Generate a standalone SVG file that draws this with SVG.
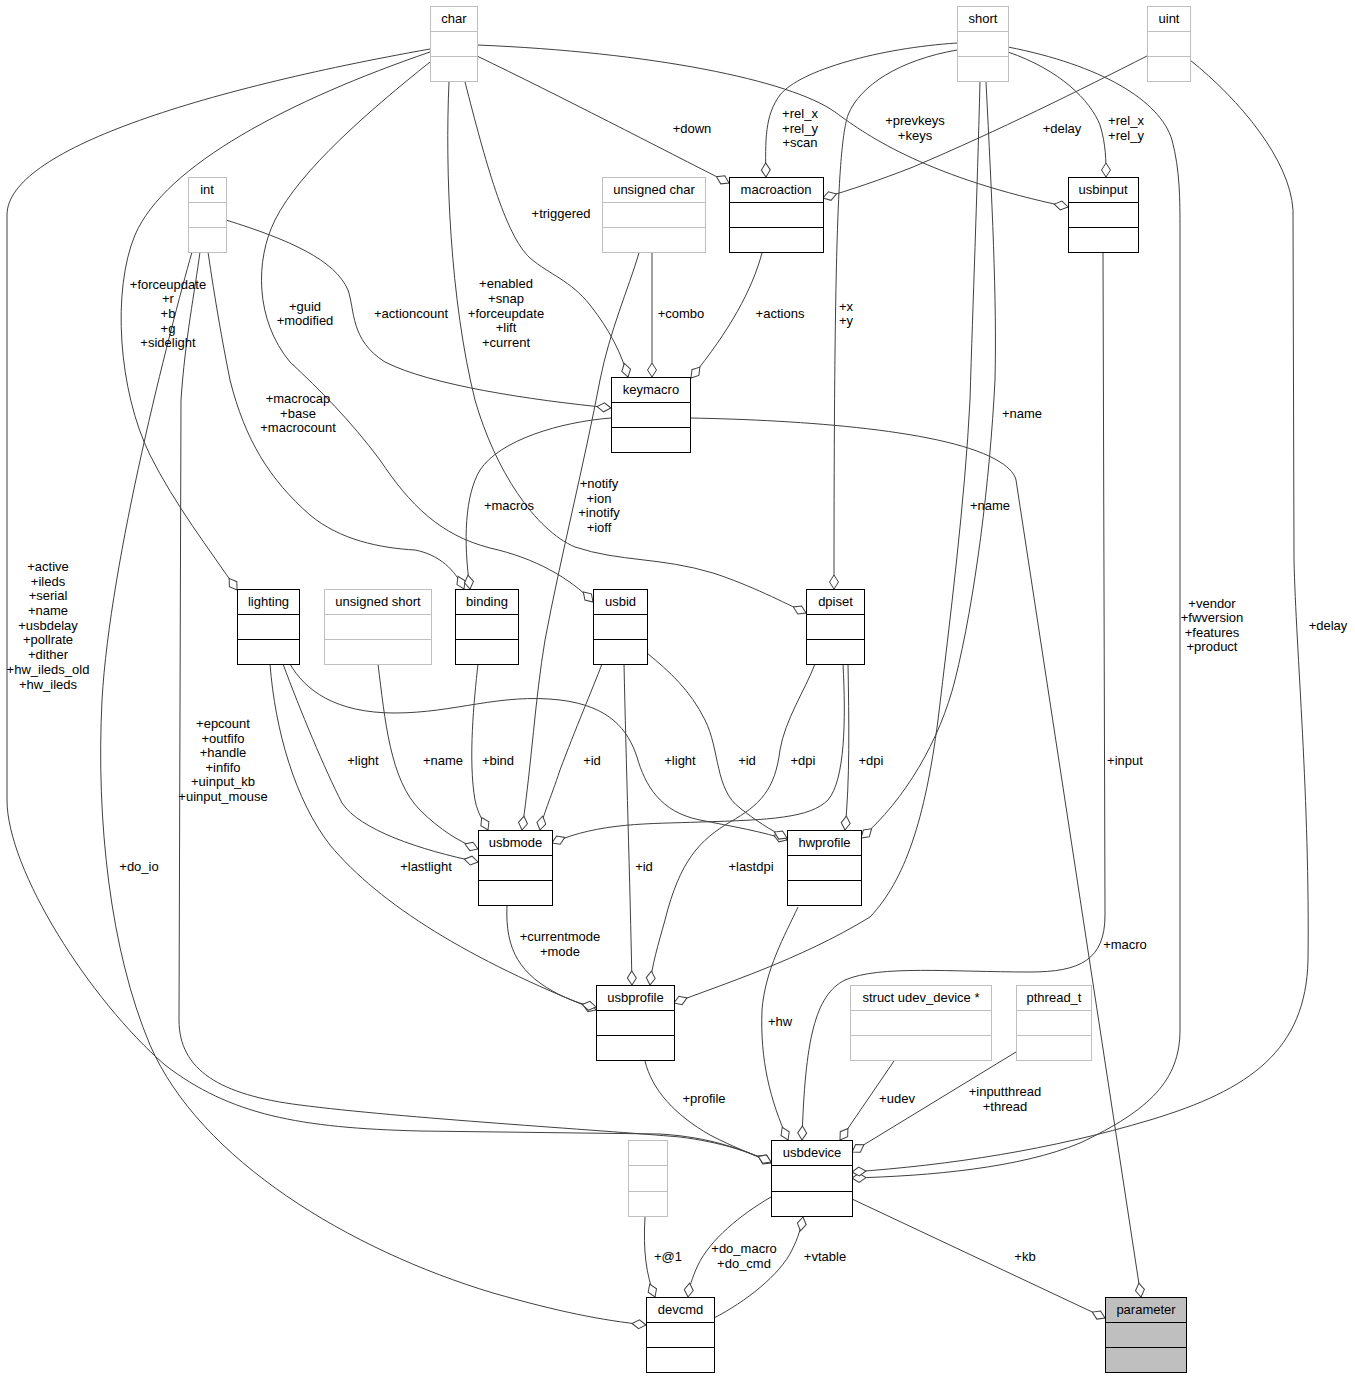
<svg xmlns="http://www.w3.org/2000/svg" width="1355" height="1379" viewBox="0 0 1355 1379">
<style>
text{font-family:"Liberation Sans",Arial,Helvetica,sans-serif;font-size:13px;fill:#000}
.node text{text-anchor:middle}
.node rect{fill:#fff;stroke:#000;stroke-width:1}
.node line{stroke:#000;stroke-width:1}
.gray rect,.gray line{stroke:#bfbfbf}
.root rect{fill:#bfbfbf}
#edges path{fill:none;stroke:#404040;stroke-width:1;marker-end:url(#dia)}
#labels text{text-anchor:middle}
</style>
<defs>
<marker id="dia" markerUnits="userSpaceOnUse" orient="auto" markerWidth="16" markerHeight="12" viewBox="-15 -6 16 12" refX="0" refY="0" overflow="visible">
<path d="M0,0 L-7,-4.5 L-14,0 L-7,4.5 Z" fill="#fff" stroke="#404040" stroke-width="1"/>
</marker>
</defs>
<rect width="1355" height="1379" fill="#fff"/>
<g id="edges">
<path d="M477,56 C560,96 660,148 729,183"/>
<path d="M477,45 C650,52 790,80 835,112 C870,138 930,178 1068,207"/>
<path d="M430,49 C200,90 7,150 7,215 L7,800 C7,870 90,1000 165,1065 C230,1115 300,1128 420,1131 L660,1134 C710,1137 745,1150 771,1163"/>
<path d="M430,52 C290,100 165,165 135,235 C112,290 118,390 150,455 C175,505 210,550 237,590"/>
<path d="M465,82 C485,160 505,235 530,258 C550,275 570,280 590,305 C610,330 622,355 628,377"/>
<path d="M449,82 C445,170 450,300 475,400 C495,470 535,530 575,547 C620,562 660,557 713,573 C750,585 785,603 806,613"/>
<path d="M430,62 C370,110 300,170 275,220 C255,260 255,320 290,362 C320,390 350,420 380,460 C410,505 440,535 490,548 C535,558 570,578 593,602"/>
<path d="M957,43 C880,48 800,70 780,95 C765,115 765,140 766,177"/>
<path d="M957,50 C900,60 860,85 848,115 C838,145 834,250 834,589"/>
<path d="M1008,52 C1060,70 1090,100 1100,125 C1106,145 1106,160 1106,177"/>
<path d="M1008,47 C1100,65 1160,100 1172,140 C1180,170 1180,200 1180,230 L1180,1030 C1180,1080 1150,1110 1080,1143 C1020,1168 930,1176 852,1178"/>
<path d="M1190,60 C1240,100 1290,160 1293,210 L1294,560 C1296,650 1310,800 1308,960 C1306,1050 1250,1090 1150,1120 C1050,1150 950,1165 852,1172"/>
<path d="M1147,56 C1080,90 1000,130 913,167 C880,180 850,190 823,198"/>
<path d="M980,82 C977,200 973,300 970,400 C965,500 950,620 938,720 C925,820 905,880 870,917 C800,960 720,985 674,1003"/>
<path d="M986,82 C992,200 997,300 995,380 C990,480 975,600 955,680 C940,740 905,800 861,838"/>
<path d="M226,220 C290,240 335,260 348,290 C355,310 350,340 385,362 C430,385 530,400 611,408"/>
<path d="M208,252 C215,300 222,340 230,380 C245,440 270,480 310,515 C340,540 380,548 415,550 C440,555 455,570 464,589"/>
<path d="M200,252 C195,290 185,340 181,400 L179,1020 C179,1070 220,1095 300,1105 C400,1118 600,1130 680,1137 C720,1142 750,1152 771,1162"/>
<path d="M192,252 C170,330 110,560 102,700 C96,820 110,950 150,1045 C200,1160 350,1250 493,1293 C560,1312 600,1320 646,1325"/>
<path d="M652,253 L652,377"/>
<path d="M639,253 C628,290 610,330 600,380 C585,460 560,560 545,640 C535,700 532,760 522,830"/>
<path d="M478,664 C474,700 468,760 475,800 C478,815 484,822 488,830"/>
<path d="M602,664 C592,690 575,730 560,770 C550,800 543,815 540,830"/>
<path d="M378,664 C385,720 390,780 420,810 C440,830 460,842 478,849"/>
<path d="M283,664 C300,710 325,770 342,803 C360,830 420,850 478,862"/>
<path d="M270,664 C275,730 295,800 330,845 C380,905 470,960 596,1010"/>
<path d="M507,906 C505,950 520,975 560,995 C575,1002 585,1005 596,1007"/>
<path d="M290,664 C305,690 335,713 395,713 C455,713 500,693 560,700 C610,706 628,730 637,757 C645,785 660,812 700,820 C730,826 765,832 787,840"/>
<path d="M647,653 C670,672 690,690 705,720 C720,750 715,790 740,808 C755,820 770,830 787,838"/>
<path d="M843,664 C846,720 845,780 828,800 C810,818 770,820 700,822 C650,824 600,822 552,843"/>
<path d="M848,664 C849,720 850,780 845,830"/>
<path d="M815,664 C805,690 785,720 780,750 C775,790 760,805 730,822 C700,840 680,860 665,920 C658,945 652,965 650,985"/>
<path d="M624,664 C626,760 630,880 632,985"/>
<path d="M611,418 C560,422 500,440 480,470 C465,495 463,540 470,589"/>
<path d="M762,253 C752,290 730,330 691,378"/>
<path d="M690,418 C800,420 950,430 1000,462 C1010,468 1015,475 1016,480 L1141,1297"/>
<path d="M645,1061 C652,1090 675,1115 710,1135 C735,1148 755,1155 771,1162"/>
<path d="M798,907 C785,935 765,970 762,1010 C760,1060 770,1100 788,1140"/>
<path d="M1103,253 L1105,915 C1105,960 1080,972 1030,972 C950,972 880,965 845,980 C815,995 805,1040 802,1140"/>
<path d="M894,1061 L840,1140"/>
<path d="M1016,1052 L852,1152"/>
<path d="M771,1197 C740,1215 710,1240 698,1265 C692,1278 689,1288 688,1297"/>
<path d="M714,1318 C745,1302 780,1275 792,1250 C798,1238 801,1228 803,1217"/>
<path d="M645,1217 C643,1250 646,1275 655,1297"/>
<path d="M852,1199 L1105,1318"/>
</g>
<g id="labels">
<text x="692" y="133">+down</text>
<text x="915" y="125">+prevkeys</text><text x="915" y="140">+keys</text>
<text x="48" y="571">+active</text><text x="48" y="586">+ileds</text><text x="48" y="600">+serial</text><text x="48" y="615">+name</text><text x="48" y="630">+usbdelay</text><text x="48" y="644">+pollrate</text><text x="48" y="659">+dither</text><text x="48" y="674">+hw_ileds_old</text><text x="48" y="689">+hw_ileds</text>
<text x="168" y="289">+forceupdate</text><text x="168" y="303">+r</text><text x="168" y="318">+b</text><text x="168" y="333">+g</text><text x="168" y="347">+sidelight</text>
<text x="561" y="218">+triggered</text>
<text x="506" y="288">+enabled</text><text x="506" y="303">+snap</text><text x="506" y="318">+forceupdate</text><text x="506" y="332">+lift</text><text x="506" y="347">+current</text>
<text x="305" y="311">+guid</text><text x="305" y="325">+modified</text>
<text x="800" y="118">+rel_x</text><text x="800" y="133">+rel_y</text><text x="800" y="147">+scan</text>
<text x="846" y="311">+x</text><text x="846" y="325">+y</text>
<text x="1126" y="125">+rel_x</text><text x="1126" y="140">+rel_y</text>
<text x="1212" y="608">+vendor</text><text x="1212" y="622">+fwversion</text><text x="1212" y="637">+features</text><text x="1212" y="651">+product</text>
<text x="1328" y="630">+delay</text>
<text x="1062" y="133">+delay</text>
<text x="1022" y="418">+name</text>
<text x="990" y="510">+name</text>
<text x="411" y="318">+actioncount</text>
<text x="298" y="403">+macrocap</text><text x="298" y="418">+base</text><text x="298" y="432">+macrocount</text>
<text x="223" y="728">+epcount</text><text x="223" y="743">+outfifo</text><text x="223" y="757">+handle</text><text x="223" y="772">+infifo</text><text x="223" y="786">+uinput_kb</text><text x="223" y="801">+uinput_mouse</text>
<text x="139" y="871">+do_io</text>
<text x="681" y="318">+combo</text>
<text x="599" y="488">+notify</text><text x="599" y="503">+ion</text><text x="599" y="517">+inotify</text><text x="599" y="532">+ioff</text>
<text x="509" y="510">+macros</text>
<text x="780" y="318">+actions</text>
<text x="363" y="765">+light</text>
<text x="443" y="765">+name</text>
<text x="498" y="765">+bind</text>
<text x="592" y="765">+id</text>
<text x="680" y="765">+light</text>
<text x="747" y="765">+id</text>
<text x="803" y="765">+dpi</text>
<text x="871" y="765">+dpi</text>
<text x="426" y="871">+lastlight</text>
<text x="644" y="871">+id</text>
<text x="751" y="871">+lastdpi</text>
<text x="560" y="941">+currentmode</text><text x="560" y="956">+mode</text>
<text x="1125" y="949">+macro</text>
<text x="1125" y="765">+input</text>
<text x="780" y="1026">+hw</text>
<text x="704" y="1103">+profile</text>
<text x="897" y="1103">+udev</text>
<text x="1005" y="1096">+inputthread</text><text x="1005" y="1111">+thread</text>
<text x="744" y="1253">+do_macro</text><text x="744" y="1268">+do_cmd</text>
<text x="825" y="1261">+vtable</text>
<text x="668" y="1261">+@1</text>
<text x="1025" y="1261">+kb</text>
</g>
<g id="n-char" class="node gray"><rect x="430.5" y="6.5" width="47" height="75"/><line x1="430.5" y1="31.5" x2="477.5" y2="31.5"/><line x1="430.5" y1="56.5" x2="477.5" y2="56.5"/><text x="454" y="23">char</text></g>
<g id="n-short" class="node gray"><rect x="957.5" y="6.5" width="51" height="75"/><line x1="957.5" y1="31.5" x2="1008.5" y2="31.5"/><line x1="957.5" y1="56.5" x2="1008.5" y2="56.5"/><text x="983" y="23">short</text></g>
<g id="n-uint" class="node gray"><rect x="1147.5" y="6.5" width="43" height="75"/><line x1="1147.5" y1="31.5" x2="1190.5" y2="31.5"/><line x1="1147.5" y1="56.5" x2="1190.5" y2="56.5"/><text x="1169" y="23">uint</text></g>
<g id="n-int" class="node gray"><rect x="188.5" y="177.5" width="38" height="75"/><line x1="188.5" y1="202.5" x2="226.5" y2="202.5"/><line x1="188.5" y1="227.5" x2="226.5" y2="227.5"/><text x="207" y="194">int</text></g>
<g id="n-uchar" class="node gray"><rect x="602.5" y="177.5" width="103" height="75"/><line x1="602.5" y1="202.5" x2="705.5" y2="202.5"/><line x1="602.5" y1="227.5" x2="705.5" y2="227.5"/><text x="654" y="194">unsigned char</text></g>
<g id="n-macroaction" class="node"><rect x="729.5" y="177.5" width="94" height="75"/><line x1="729.5" y1="202.5" x2="823.5" y2="202.5"/><line x1="729.5" y1="227.5" x2="823.5" y2="227.5"/><text x="776" y="194">macroaction</text></g>
<g id="n-usbinput" class="node"><rect x="1068.5" y="177.5" width="70" height="75"/><line x1="1068.5" y1="202.5" x2="1138.5" y2="202.5"/><line x1="1068.5" y1="227.5" x2="1138.5" y2="227.5"/><text x="1103" y="194">usbinput</text></g>
<g id="n-keymacro" class="node"><rect x="611.5" y="377.5" width="79" height="75"/><line x1="611.5" y1="402.5" x2="690.5" y2="402.5"/><line x1="611.5" y1="427.5" x2="690.5" y2="427.5"/><text x="651" y="394">keymacro</text></g>
<g id="n-lighting" class="node"><rect x="237.5" y="589.5" width="62" height="75"/><line x1="237.5" y1="614.5" x2="299.5" y2="614.5"/><line x1="237.5" y1="639.5" x2="299.5" y2="639.5"/><text x="268.5" y="606">lighting</text></g>
<g id="n-ushort" class="node gray"><rect x="324.5" y="589.5" width="107" height="75"/><line x1="324.5" y1="614.5" x2="431.5" y2="614.5"/><line x1="324.5" y1="639.5" x2="431.5" y2="639.5"/><text x="378" y="606">unsigned short</text></g>
<g id="n-binding" class="node"><rect x="455.5" y="589.5" width="63" height="75"/><line x1="455.5" y1="614.5" x2="518.5" y2="614.5"/><line x1="455.5" y1="639.5" x2="518.5" y2="639.5"/><text x="487" y="606">binding</text></g>
<g id="n-usbid" class="node"><rect x="593.5" y="589.5" width="54" height="75"/><line x1="593.5" y1="614.5" x2="647.5" y2="614.5"/><line x1="593.5" y1="639.5" x2="647.5" y2="639.5"/><text x="620.5" y="606">usbid</text></g>
<g id="n-dpiset" class="node"><rect x="806.5" y="589.5" width="58" height="75"/><line x1="806.5" y1="614.5" x2="864.5" y2="614.5"/><line x1="806.5" y1="639.5" x2="864.5" y2="639.5"/><text x="835.5" y="606">dpiset</text></g>
<g id="n-usbmode" class="node"><rect x="478.5" y="830.5" width="74" height="75"/><line x1="478.5" y1="855.5" x2="552.5" y2="855.5"/><line x1="478.5" y1="880.5" x2="552.5" y2="880.5"/><text x="515.5" y="847">usbmode</text></g>
<g id="n-hwprofile" class="node"><rect x="787.5" y="830.5" width="74" height="75"/><line x1="787.5" y1="855.5" x2="861.5" y2="855.5"/><line x1="787.5" y1="880.5" x2="861.5" y2="880.5"/><text x="824.5" y="847">hwprofile</text></g>
<g id="n-usbprofile" class="node"><rect x="596.5" y="985.5" width="78" height="75"/><line x1="596.5" y1="1010.5" x2="674.5" y2="1010.5"/><line x1="596.5" y1="1035.5" x2="674.5" y2="1035.5"/><text x="635.5" y="1002">usbprofile</text></g>
<g id="n-udev" class="node gray"><rect x="850.5" y="985.5" width="141" height="75"/><line x1="850.5" y1="1010.5" x2="991.5" y2="1010.5"/><line x1="850.5" y1="1035.5" x2="991.5" y2="1035.5"/><text x="921" y="1002">struct udev_device *</text></g>
<g id="n-pthread" class="node gray"><rect x="1016.5" y="985.5" width="75" height="75"/><line x1="1016.5" y1="1010.5" x2="1091.5" y2="1010.5"/><line x1="1016.5" y1="1035.5" x2="1091.5" y2="1035.5"/><text x="1054" y="1002">pthread_t</text></g>
<g id="n-anon" class="node gray"><rect x="628.5" y="1140.5" width="39" height="76"/><line x1="628.5" y1="1165.5" x2="667.5" y2="1165.5"/><line x1="628.5" y1="1191.5" x2="667.5" y2="1191.5"/></g>
<g id="n-usbdevice" class="node"><rect x="771.5" y="1140.5" width="81" height="76"/><line x1="771.5" y1="1165.5" x2="852.5" y2="1165.5"/><line x1="771.5" y1="1191.5" x2="852.5" y2="1191.5"/><text x="812" y="1157">usbdevice</text></g>
<g id="n-devcmd" class="node"><rect x="646.5" y="1297.5" width="68" height="75"/><line x1="646.5" y1="1322.5" x2="714.5" y2="1322.5"/><line x1="646.5" y1="1347.5" x2="714.5" y2="1347.5"/><text x="680.5" y="1314">devcmd</text></g>
<g id="n-parameter" class="node root"><rect x="1105.5" y="1297.5" width="81" height="75"/><line x1="1105.5" y1="1322.5" x2="1186.5" y2="1322.5"/><line x1="1105.5" y1="1347.5" x2="1186.5" y2="1347.5"/><text x="1146" y="1314">parameter</text></g>
</svg>
